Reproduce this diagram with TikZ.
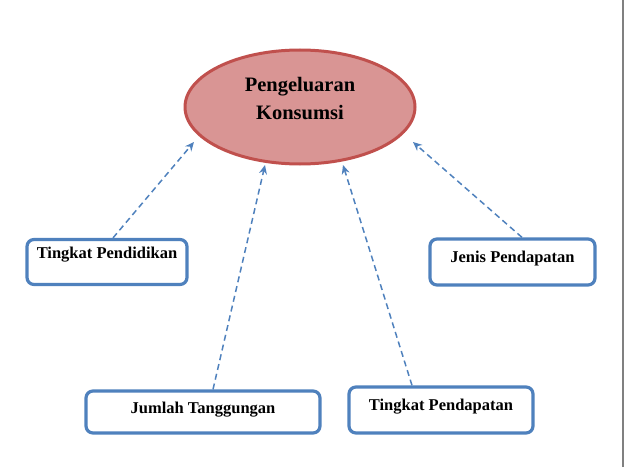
\documentclass[tikz,border=0pt]{standalone}
\usepackage{fontspec}
\setmainfont{Liberation Serif}
\usetikzlibrary{arrows.meta}
\usetikzlibrary{shapes.geometric}
\definecolor{ellfill}{HTML}{D99594}
\definecolor{elldraw}{HTML}{C0504D}
\definecolor{bluebox}{HTML}{4F81BD}
\tikzset{
  ell/.style={ellipse, draw=elldraw, fill=ellfill, line width=3pt, minimum width=230pt, minimum height=114pt, inner sep=0pt},
  boxnode/.style={draw=bluebox, line width=3.2pt, rounded corners=7pt, fill=white, inner sep=0pt},
  lbl/.style={font=\bfseries\fontsize{16.5}{18}\selectfont, inner sep=0pt},
  dasharrow/.style={draw=bluebox, line width=1.5pt, dash pattern=on 6pt off 4pt, -{Stealth[length=9pt,width=8pt]}}
}
\begin{document}
\begin{tikzpicture}[x=1pt,y=1pt]
\useasboundingbox (0,0) rectangle (626,467);
\draw[gray, line width=2pt] (623,0) -- (623,467);
% central ellipse
\node[ell] (pk) at (300,360) {};
\node[font=\bfseries\fontsize{20.5}{28}\selectfont, align=center, inner sep=0pt] (pktext) at (300,368) {Pengeluaran\\Konsumsi};
% boxes
\node[boxnode, minimum width=160pt, minimum height=45pt] (pend) at (107,205) {};
\node[lbl] (pendt) at (107,212) {Tingkat Pendidikan};
\node[boxnode, minimum width=165pt, minimum height=46pt] (jenis) at (512.5,205) {};
\node[lbl] (jenist) at (512.5,208) {Jenis Pendapatan};
\node[boxnode, minimum width=234pt, minimum height=42pt] (jumlah) at (203,55) {};
\node[lbl] (jumlaht) at (203,57) {Jumlah Tanggungan};
\node[boxnode, minimum width=184pt, minimum height=46pt] (tpend) at (441,57) {};
\node[lbl] (tpendt) at (441,60) {Tingkat Pendapatan};
% arrow tips
\coordinate (t1) at (194,325);
\coordinate (t2) at (265,302);
\coordinate (t3) at (343,302);
\coordinate (t4) at (413,325);
\draw[dasharrow] (pend.north -| 113,0) -- (t1);
\draw[dasharrow] (jumlah.north -| 213,0) -- (t2);
\draw[dasharrow] (tpend.north -| 412,0) -- (t3);
\draw[dasharrow] (jenis.north -| 522,0) -- (t4);
\end{tikzpicture}
\end{document}
